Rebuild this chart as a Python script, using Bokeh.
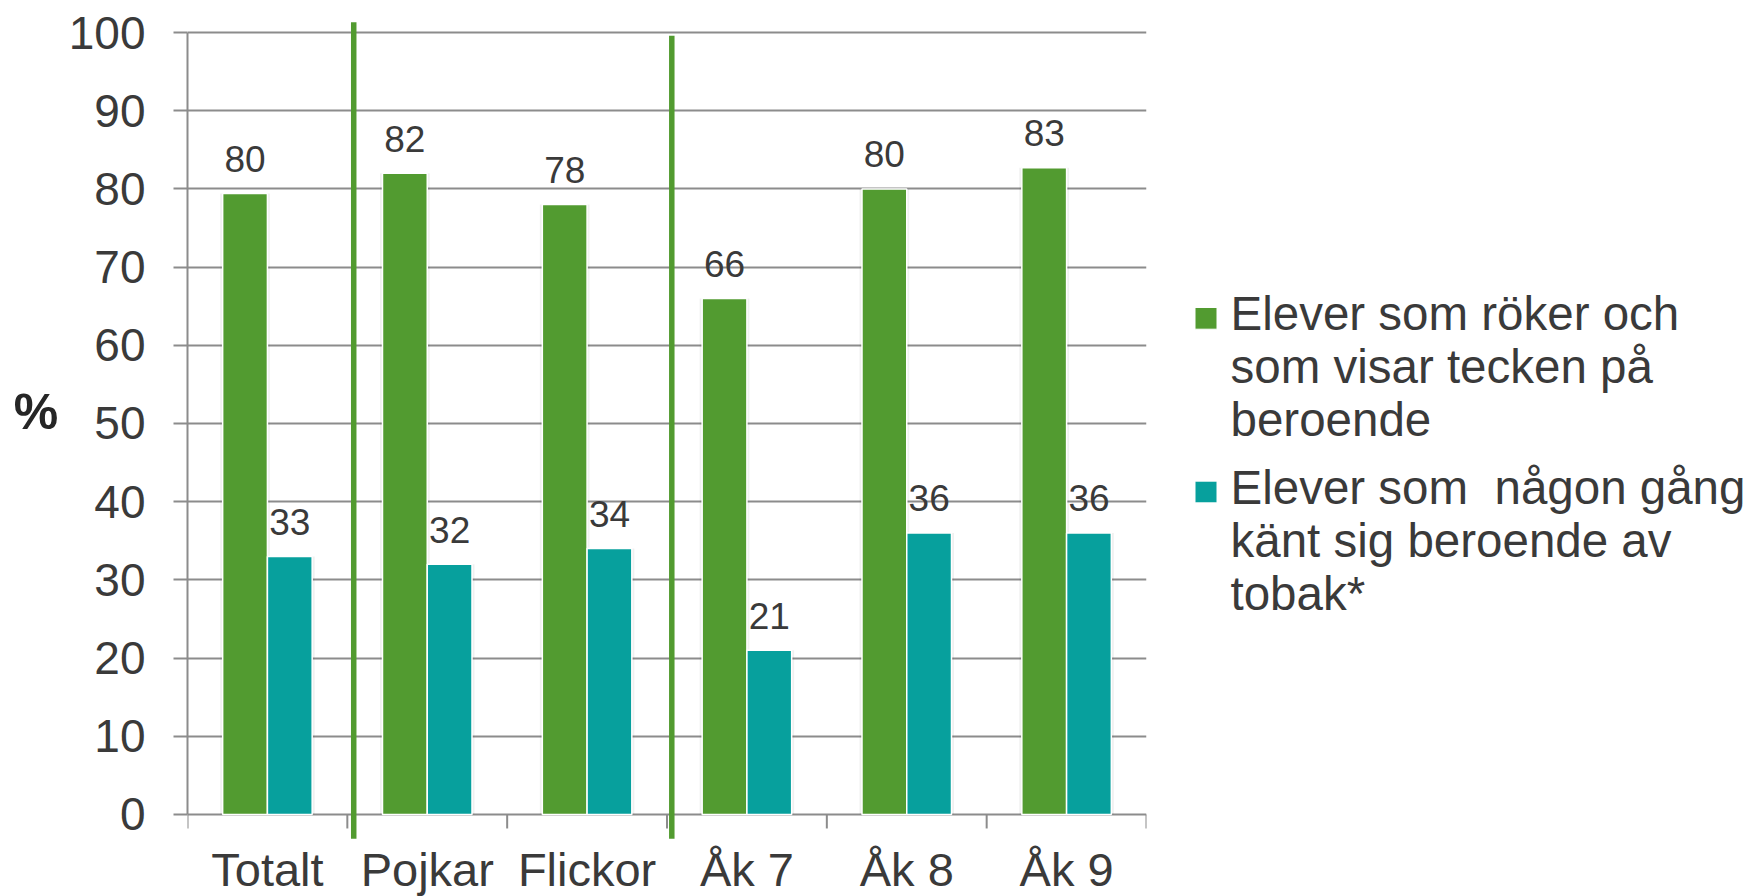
from bokeh.plotting import figure
from bokeh.models import Range1d, FixedTicker
from bokeh.layouts import row
from bokeh.embed import file_html
from bokeh.resources import INLINE
from bokeh.core.properties import value

# ---------------- data ----------------
categories = ["Totalt", "Pojkar", "Flickor", "Åk 7", "Åk 8", "Åk 9"]
smokers_dependent = [79.4, 82.0, 78.0, 66.0, 80.0, 82.7]
smokers_dependent_labels = ["80", "82", "78", "66", "80", "83"]
ever_felt_dependent = [33.0, 32.0, 34.0, 21.0, 36.0, 36.0]
ever_felt_dependent_labels = ["33", "32", "34", "21", "36", "36"]
series_names = [
    ["Elever som röker och", "som visar tecken på", "beroende"],
    ["Elever som \u00a0någon gång", "känt sig beroende av", "tobak*"],
]
y_ticks = [0, 10, 20, 30, 40, 50, 60, 70, 80, 90, 100]
y_label = "%"
separator_x = [1.04, 3.03]
separator_top = [101.3, 99.6]
separator_bottom = -3.1

# ---------------- style ----------------
GREEN = "#529B30"
TEAL = "#07A09D"
GRID = "#8C8C8C"
TXT = "#3A3A3A"
FONT = "Liberation Sans"

H = 896
LW = 60                       # width of the panel holding the "%" title
W1 = 1106
BL, BR, BT, BB = 127, 20, 12, 0
Y0, Y1 = -10.49, 102.56
ppu = (H - BT - BB) / (Y1 - Y0)          # pixels per y unit
ppx = (W1 - BL - BR) / len(categories)   # pixels per category

n = len(categories)
centers = [i + 0.5 for i in range(n)]
bw = 0.28

# ---------------- "%" title panel ----------------
lt = figure(width=LW, height=H, x_range=Range1d(0, LW), y_range=Range1d(H, 0),
            output_backend="svg", toolbar_location=None, x_axis_location=None,
            y_axis_location=None, min_border=0)
lt.outline_line_color = None
lt.grid.visible = False
lt.text(x=[35.5], y=[405], text=[y_label], text_align="center", text_baseline="middle",
        text_font=value(FONT), text_font_style="bold", text_font_size="50px",
        text_color="#262626")

# ---------------- main chart ----------------
p = figure(width=W1, height=H, x_range=Range1d(0, n), y_range=Range1d(Y0, Y1),
           output_backend="svg", toolbar_location=None, x_axis_location=None,
           min_border_left=BL, min_border_right=BR, min_border_top=BT, min_border_bottom=BB)
p.outline_line_color = None
p.background_fill_color = "white"
p.border_fill_color = "white"
p.xgrid.visible = False
p.ygrid.ticker = FixedTicker(ticks=y_ticks)
p.ygrid.grid_line_color = GRID
p.ygrid.grid_line_width = 2

ax = p.yaxis[0]
ax.ticker = FixedTicker(ticks=y_ticks)
ax.bounds = (0, 100)
ax.axis_line_color = GRID
ax.axis_line_width = 2
ax.major_tick_line_color = GRID
ax.major_tick_line_width = 2
ax.major_tick_out = 14
ax.major_tick_in = 0
ax.minor_tick_line_color = None
ax.major_label_standoff = 28
ax.major_label_text_font = FONT
ax.major_label_text_font_size = "46px"
ax.major_label_text_color = TXT

# category tick marks at boundaries
bounds = list(range(n + 1))
p.segment(x0=bounds, y0=[0] * len(bounds), x1=bounds, y1=[-14 / ppu] * len(bounds),
          line_color=GRID, line_width=2)

# bars (with faint shadow)
gx = [c - bw / 2 for c in centers]
tx = [c + bw / 2 for c in centers]
sh = 5 / ppx
p.vbar(x=gx, top=smokers_dependent, bottom=0, width=bw + sh, fill_color="#000000",
       fill_alpha=0.06, line_color=None)
p.vbar(x=tx, top=ever_felt_dependent, bottom=0, width=bw + sh, fill_color="#000000",
       fill_alpha=0.06, line_color=None)
p.vbar(x=gx, top=smokers_dependent, bottom=0, width=bw, fill_color=GREEN,
       line_color="white", line_width=1.5)
p.vbar(x=tx, top=ever_felt_dependent, bottom=0, width=bw, fill_color=TEAL,
       line_color="white", line_width=1.5)

# value labels
p.text(x=gx, y=smokers_dependent, text=smokers_dependent_labels, text_align="center",
       text_baseline="middle", y_offset=-34.5, text_font=value(FONT),
       text_font_size="37px", text_color=TXT)
p.text(x=tx, y=ever_felt_dependent, text=ever_felt_dependent_labels, text_align="center",
       text_baseline="middle", y_offset=-34.5, text_font=value(FONT),
       text_font_size="37px", text_color=TXT)

# category labels
p.text(x=centers, y=[0] * n, text=categories, text_align="center",
       text_baseline="middle", y_offset=55, text_font=value(FONT),
       text_font_size="47px", text_color=TXT)

# separators
p.segment(x0=separator_x, y0=[separator_bottom] * 2, x1=separator_x, y1=separator_top,
          line_color=GREEN, line_width=5.5)

# ---------------- legend panel ----------------
W2 = 588
lg = figure(width=W2, height=H, x_range=Range1d(0, W2), y_range=Range1d(H, 0),
            output_backend="svg", toolbar_location=None, x_axis_location=None,
            y_axis_location=None, min_border=0)
lg.outline_line_color = None
lg.grid.visible = False
colors = [GREEN, TEAL]
first_y, line_step, entry_step = 305, 54, 176
for k, lines in enumerate(series_names):
    y0 = first_y + k * entry_step
    lg.rect(x=[39.5], y=[y0 + 5], width=22, height=22, fill_color=colors[k],
            line_color="white", line_width=1)
    lg.text(x=[64] * len(lines), y=[y0 + j * line_step for j in range(len(lines))],
            text=lines, text_align="left", text_baseline="middle",
            text_font=value(FONT), text_font_size="47.5px", text_color=TXT)

layout = row(lt, p, lg)
open("out.html", "w").write(file_html(layout, INLINE))
